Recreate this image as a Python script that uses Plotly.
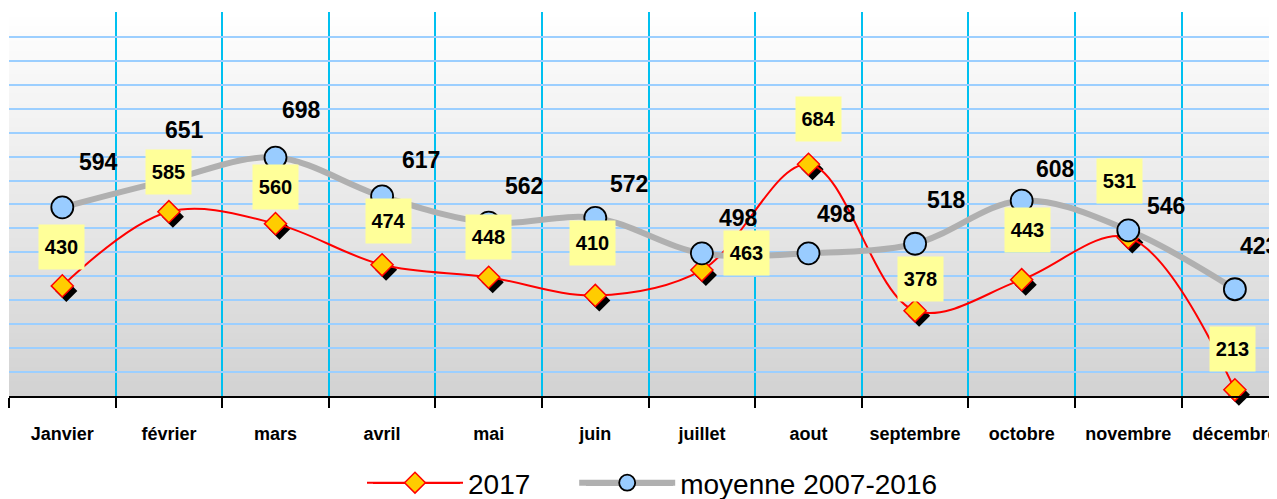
import plotly.graph_objects as go

# ---- data ----
months = ["Janvier", "février", "mars", "avril", "mai", "juin", "juillet",
          "aout", "septembre", "octobre", "novembre", "décembre"]
v2017 = [430, 585, 560, 474, 448, 410, 463, 684, 378, 443, 531, 213]
moyenne = [594, 651, 698, 617, 562, 572, 498, 498, 518, 608, 546, 423]
name2017 = "2017"
name_moy = "moyenne 2007-2016"

# ---- styling (label pixel offsets: dx, dy-up) ----
off2017 = [(-1, 39), (0, 40), (0, 37), (6, 44), (0, 40), (-3, 52), (45, 17),
           (10, 45), (5, 32), (6, 50), (-9, 57), (-2, 41)]
offmoy = [(36, 45), (16, 50), (26, 48), (39, 36), (35, 37), (34, 34), (37, 35),
          (28, 39), (31, 44), (34, 32), (38, 24), (24, 43)]

# page has an 8px body margin: the figure is placed at (8, 8)
PAGE_OFF = 8
W, H = 1277 - PAGE_OFF, 499 - PAGE_OFF
ML, MT, MB, MR = 1, 4, 103, 0
YMIN, YMAX = 200, 1002
XR = [-0.5, 11.395]
plot_w = W - ML - MR
plot_h = H - MT - MB
px_per_cat = plot_w / (XR[1] - XR[0])
px_per_unit = plot_h / (YMAX - YMIN)
SH_X, SH_Y = 4, 5  # shadow offset in px
xr_sh = [XR[0] - SH_X / px_per_cat, XR[1] - SH_X / px_per_cat]
yr_sh = [YMIN + SH_Y / px_per_unit, YMAX + SH_Y / px_per_unit]


def px_to_paper_x(px):  # page px -> paper
    return (px - PAGE_OFF - ML) / plot_w


def py_to_paper_y(py):  # page px -> paper
    return 1 - (py - PAGE_OFF - MT) / plot_h


FONT = "Liberation Sans, Arial, Helvetica, sans-serif"
NB = "\u00a0"
RED = "#ff0000"
GREY = "#b0b0b0"

fig = go.Figure()

# dummy on base axes (establishes categories for ticks/grid)
fig.add_trace(go.Scatter(x=months, y=v2017, mode="lines", line=dict(width=0),
                         opacity=0, showlegend=False, hoverinfo="skip"))

# shadow of diamonds
fig.add_trace(go.Scatter(x=months, y=v2017, mode="markers", xaxis="x2", yaxis="y2",
                         marker=dict(symbol="diamond", size=17, color="black",
                                     line=dict(width=0)),
                         showlegend=False, hoverinfo="skip", cliponaxis=False))

fig.add_trace(go.Scatter(x=months, y=v2017, name=name2017 + NB * 5, mode="lines+markers",
                         xaxis="x3", yaxis="y3",
                         line=dict(color=RED, width=2, shape="spline", smoothing=1),
                         marker=dict(symbol="diamond", size=17, color="#ffcc00",
                                     line=dict(color=RED, width=1.5)),
                         cliponaxis=False))

fig.add_trace(go.Scatter(x=months, y=moyenne, name=name_moy, mode="lines+markers",
                         xaxis="x3", yaxis="y3",
                         line=dict(color=GREY, width=6, shape="spline", smoothing=1),
                         marker=dict(symbol="circle", size=22, color="#99ccff",
                                     line=dict(color="black", width=1.8)),
                         cliponaxis=False))

# gradient background
N = 80
shapes = []
for i in range(N):
    t = (i + 0.5) / N  # 0 bottom -> 1 top
    g = int(round(210 + (255 - 210) * t))
    shapes.append(dict(type="rect", xref="paper", yref="paper",
                       x0=0, x1=1, y0=i / N, y1=(i + 1) / N + 0.002,
                       fillcolor=f"rgb({g},{g},{g})", line=dict(width=0), layer="below"))

# longer legend line samples (decoration under the legend symbols)
LEG_Y = 483
for x0, x1, col, wd in [(373, 460, RED, 2), (586, 673, GREY, 6)]:
    shapes.append(dict(type="line", xref="paper", yref="paper",
                       x0=px_to_paper_x(x0), x1=px_to_paper_x(x1),
                       y0=py_to_paper_y(LEG_Y), y1=py_to_paper_y(LEG_Y),
                       line=dict(color=col, width=wd), layer="above"))

annotations = []
for m, v, (dx, dy) in zip(months, v2017, off2017):
    annotations.append(dict(x=m, y=v, xref="x", yref="y", text=f"<b>{v}</b>",
                            showarrow=False, xshift=dx, yshift=dy,
                            bgcolor="#ffff99", width=43, height=42, borderpad=1,
                            font=dict(family=FONT, size=20, color="black")))
for m, v, (dx, dy) in zip(months, moyenne, offmoy):
    annotations.append(dict(x=m, y=v, xref="x", yref="y", text=f"<b>{v}</b>",
                            showarrow=False, xshift=dx, yshift=dy,
                            font=dict(family=FONT, size=23, color="black")))

fig.update_layout(
    width=W, height=H,
    margin=dict(l=ML, r=MR, t=MT, b=MB, pad=0, autoexpand=False),
    paper_bgcolor="white", plot_bgcolor="white",
    font=dict(family=FONT, color="black"),
    shapes=shapes, annotations=annotations,
    xaxis=dict(type="category", categoryarray=months, range=XR, tickson="boundaries",
               showgrid=True, gridcolor="#00c0f0", gridwidth=2,
               ticks="outside", ticklen=10, tickwidth=1.5, tickcolor="black",
               showline=True, linecolor="black", linewidth=2,
               tickfont=dict(family=FONT, size=18, color="black", weight="bold"),
               ticklabelstandoff=20, zeroline=False, automargin=False),
    yaxis=dict(range=[YMIN, YMAX], dtick=50, tick0=0, showgrid=True, gridcolor="#9ccfff",
               gridwidth=2, showticklabels=False, ticks="", zeroline=False, showline=False,
               automargin=False),
    xaxis2=dict(type="category", categoryarray=months, range=xr_sh, overlaying="x",
                visible=False),
    yaxis2=dict(range=yr_sh, overlaying="y", visible=False),
    xaxis3=dict(type="category", categoryarray=months, range=XR, overlaying="x",
                visible=False),
    yaxis3=dict(range=[YMIN, YMAX], overlaying="y", visible=False),
    legend=dict(orientation="h", x=px_to_paper_x(362), xanchor="left",
                y=py_to_paper_y(LEG_Y), yanchor="middle", itemwidth=96,
                font=dict(family=FONT, size=28, color="black"),
                bgcolor="rgba(0,0,0,0)"),
    showlegend=True,
)

fig.write_html("out.html")
